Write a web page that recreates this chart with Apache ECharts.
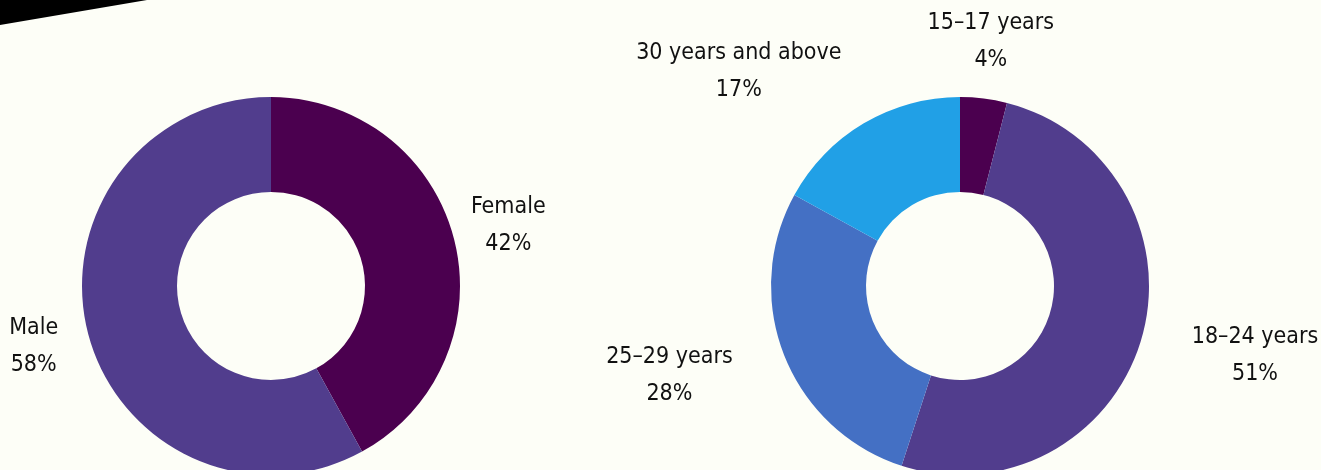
<!DOCTYPE html>
<html>
<head>
<meta charset="utf-8">
<script src="https://cdn.jsdelivr.net/npm/echarts@6/dist/echarts.min.js"></script>
<style>
  html, body { margin: 0; padding: 0; background: #fdfef7; }
  #main { width: 1321px; height: 470px; }
</style>
</head>
<body>
<div id="main"></div>
<script>
// gender split
var genderNames = ['Female', 'Male'];
var genderValues = [42, 58];
// age split
var ageNames = ['15-17 years', '18-24 years', '25-29 years', '30 years and above'];
var ageValues = [4, 51, 28, 17];

var genderColors = ['#4b004f', '#513d8d'];
var ageColors = ['#4b004f', '#513d8d', '#4470c4', '#21a0e6'];

var FONT = '"Liberation Sans Narrow", "DejaVu Sans Condensed", "Roboto", sans-serif';
var centers = [[271, 286], [960, 286]];
// label distance from centre and angle nudge (deg) per slice
var labelSpots = [
  [[245, 0], [245, 0]],
  [[246, 0], [303, -3], [304, 4.5], [308, -15.3]]
];

function midAngles(vals) {
  var total = vals.reduce(function (a, b) { return a + b; }, 0);
  var acc = 0;
  return vals.map(function (v) {
    var m = (acc + v / 2) / total * 360;
    acc += v;
    return m;
  });
}
var mids = [midAngles(genderValues), midAngles(ageValues)];

function toData(names, vals, colors) {
  return names.map(function (n, i) {
    return { name: n, value: vals[i], itemStyle: { color: colors[i] } };
  });
}

var myChart = echarts.init(document.getElementById('main'));
var option = {
  backgroundColor: '#fdfef7',
  animation: false,
  graphic: [{
    type: 'polygon',
    shape: { points: [[0, 0], [147, 0], [0, 25]] },
    style: { fill: '#000' }
  }],
  series: [0, 1].map(function (s) {
    return {
      type: 'pie',
      center: centers[s],
      radius: [94, 189],
      startAngle: 90,
      clockwise: true,
      data: s === 0 ? toData(genderNames, genderValues, genderColors)
                    : toData(ageNames, ageValues, ageColors),
      label: {
        show: true,
        position: 'outside',
        formatter: function (p) {
          return p.name.replace('-', '–') + '\n' + p.value + '%';
        },
        fontFamily: FONT,
        fontSize: 23,
        lineHeight: 37,
        color: '#111',
        align: 'center',
        overflow: 'none',
        width: 300
      },
      labelLine: { show: false },
      labelLayout: function (p) {
        var spot = labelSpots[p.seriesIndex][p.dataIndex];
        var a = (mids[p.seriesIndex][p.dataIndex] + spot[1]) * Math.PI / 180;
        var c = centers[p.seriesIndex];
        return {
          x: c[0] + spot[0] * Math.sin(a),
          y: c[1] - spot[0] * Math.cos(a),
          align: 'center',
          verticalAlign: 'middle'
        };
      },
      emphasis: { disabled: true }
    };
  })
};
myChart.setOption(option);
</script>
</body>
</html>
